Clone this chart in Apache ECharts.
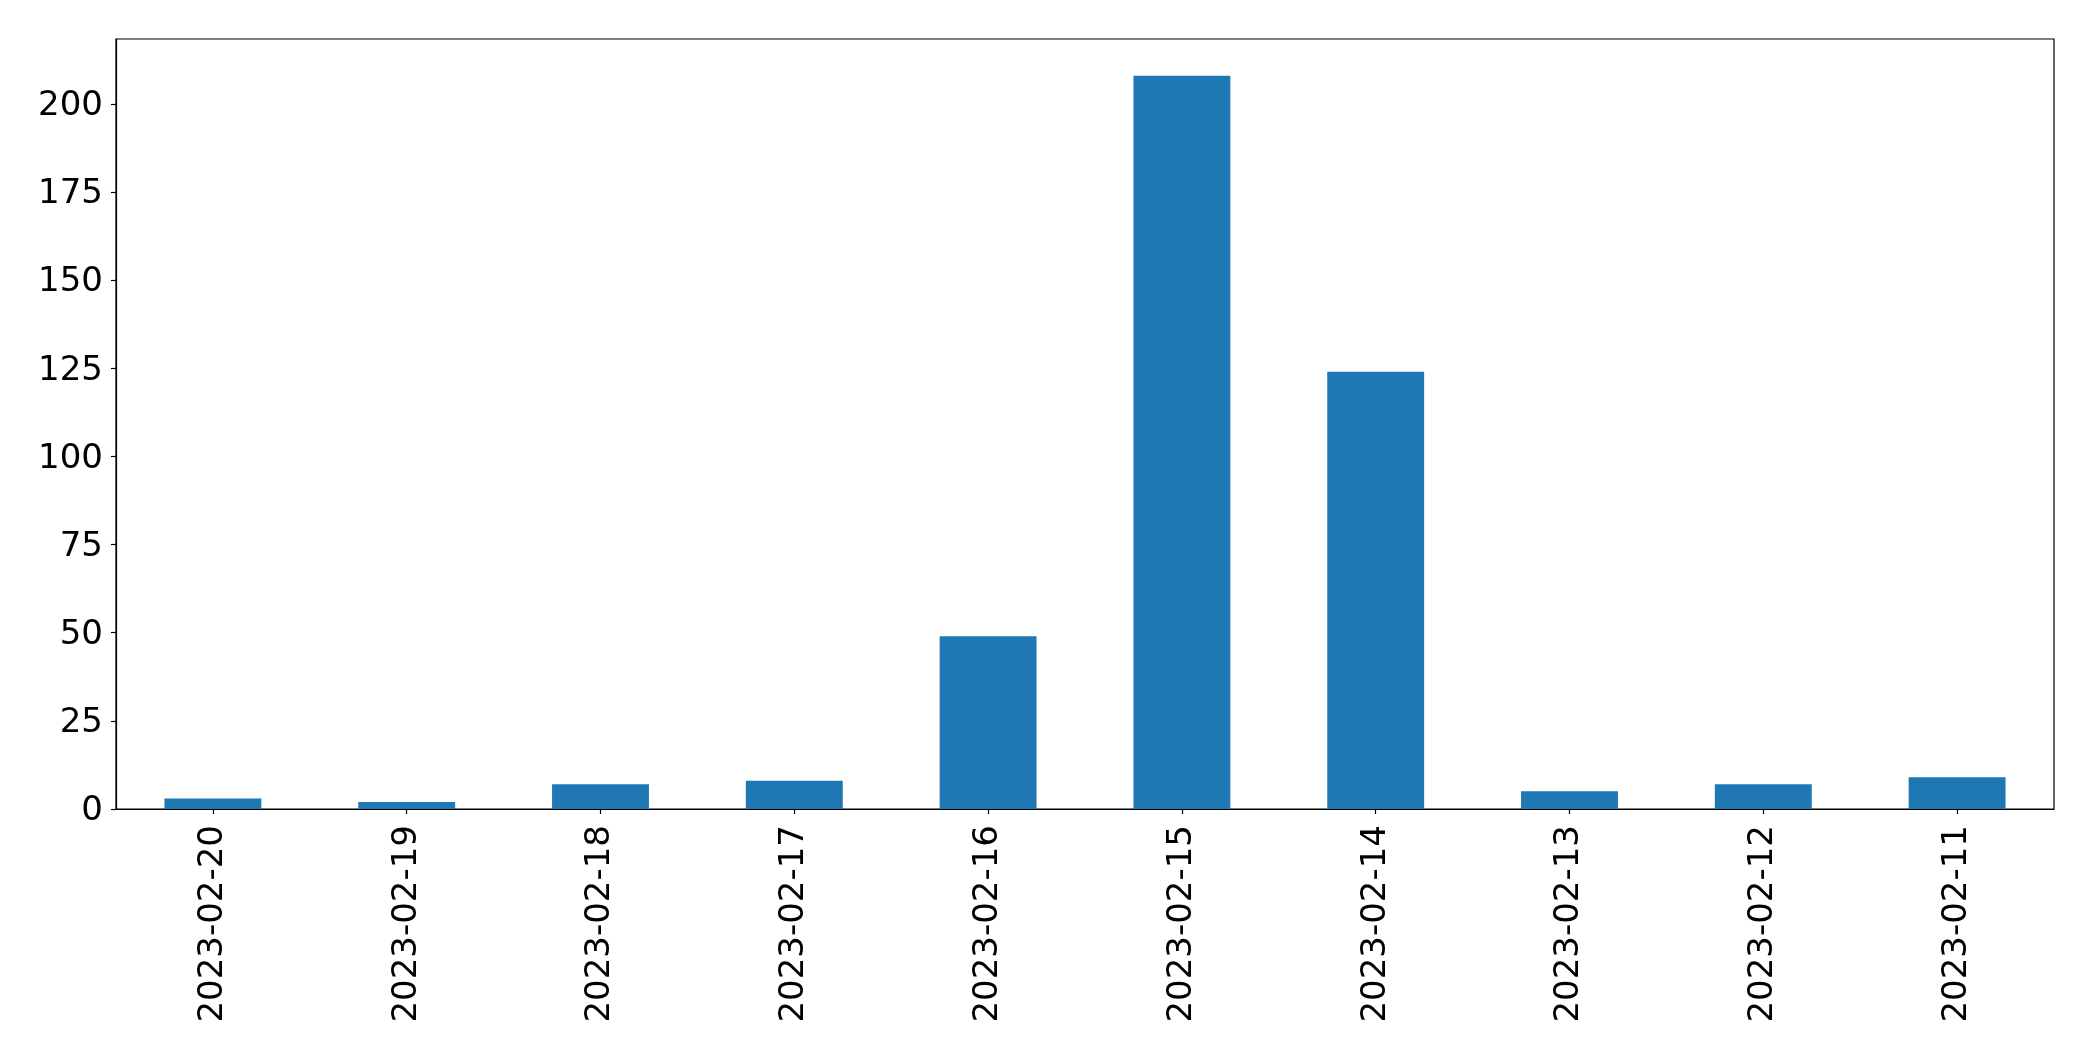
<!DOCTYPE html>
<html>
<head>
<meta charset="utf-8">
<script src="https://cdn.jsdelivr.net/npm/echarts@6/dist/echarts.min.js"></script>
<style>
html,body{margin:0;padding:0;background:#fff;}
#chart{width:2093px;height:1061px;}
</style>
</head>
<body>
<div id="chart"></div>
<script>
const categories = ["2023-02-20","2023-02-19","2023-02-18","2023-02-17","2023-02-16","2023-02-15","2023-02-14","2023-02-13","2023-02-12","2023-02-11"];
const counts = [3, 2, 7, 8, 49, 208, 124, 5, 7, 9];
const yTicks = [0, 25, 50, 75, 100, 125, 150, 175, 200];

const chart = echarts.init(document.getElementById('chart'), null, {renderer: 'canvas'});
const font = 'DejaVu Sans';
chart.setOption({
  animation: false,
  backgroundColor: '#ffffff',
  grid: {
    left: 116, right: 39, top: 39, bottom: 252,
    show: true, borderColor: '#000', borderWidth: 1.2, backgroundColor: 'transparent'
  },
  xAxis: {
    type: 'category',
    data: categories,
    axisLine: {show: true, lineStyle: {color: '#000', width: 1.2}},
    axisTick: {show: true, alignWithLabel: true, length: 5, lineStyle: {color: '#000', width: 1.2}},
    axisLabel: {rotate: 90, margin: 16, fontFamily: font, fontSize: 34, color: '#000', interval: 0},
    splitLine: {show: false}
  },
  yAxis: {
    type: 'value',
    min: 0,
    max: 218.4,
    interval: 25,
    axisLine: {show: true, lineStyle: {color: '#000', width: 1.2}},
    axisTick: {show: true, length: 5, lineStyle: {color: '#000', width: 1.2}, customValues: yTicks},
    axisLabel: {
      margin: 13, fontFamily: font, fontSize: 34, color: '#000', customValues: yTicks,
      formatter: function (v) { return '{a|' + v + '}'; },
      rich: {a: {fontFamily: font, fontSize: 34, color: '#000', padding: [5, 0, 0, 0]}}
    },
    splitLine: {show: false}
  },
  series: [{
    type: 'bar',
    data: counts,
    barWidth: '50%',
    itemStyle: {color: '#1f77b4'}
  }]
});
</script>
</body>
</html>
